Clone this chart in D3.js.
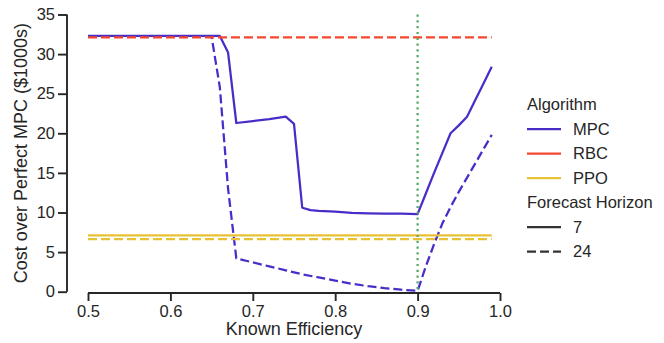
<!DOCTYPE html>
<html>
<head>
<meta charset="utf-8">
<script src="https://cdn.jsdelivr.net/npm/d3@7"></script>
<style>
  body { margin: 0; background: #fff; }
  text { font-family: "Liberation Sans", Arial, sans-serif; fill: #262626; }
</style>
</head>
<body>
<div id="chart"></div>
<script>
// series
const mpc7Eff = [0.50, 0.55, 0.60, 0.65, 0.66, 0.67, 0.68, 0.70, 0.72, 0.74, 0.75, 0.76, 0.77, 0.78, 0.80, 0.82, 0.84, 0.86, 0.88, 0.90, 0.91, 0.92, 0.93, 0.94, 0.95, 0.96, 0.97, 0.98, 0.99];
const mpc7Cost = [32.3, 32.3, 32.3, 32.3, 32.3, 30.2, 21.3, 21.55, 21.8, 22.1, 21.2, 10.6, 10.3, 10.2, 10.1, 9.95, 9.9, 9.85, 9.85, 9.8, 12.4, 15.0, 17.5, 20.0, 21.0, 22.1, 24.2, 26.3, 28.4];
const mpc24Eff = [0.50, 0.55, 0.60, 0.65, 0.66, 0.67, 0.68, 0.70, 0.72, 0.74, 0.76, 0.78, 0.80, 0.82, 0.84, 0.86, 0.88, 0.90, 0.91, 0.92, 0.93, 0.94, 0.95, 0.96, 0.97, 0.98, 0.99];
const mpc24Cost = [32.2, 32.2, 32.2, 32.2, 25.8, 13.0, 4.2, 3.7, 3.2, 2.7, 2.2, 1.8, 1.4, 1.0, 0.7, 0.45, 0.25, 0.1, 3.2, 6.0, 8.6, 10.7, 12.6, 14.4, 16.2, 18.0, 19.8];
const flatEff = [0.50, 0.99];
const rbc24Cost = [32.1, 32.1];
const ppo7Cost = [7.1, 7.1];
const ppo24Cost = [6.65, 6.65];
const knownEffLine = 0.9;

const xTicks = [0.5, 0.6, 0.7, 0.8, 0.9, 1.0];
const yTicks = [0, 5, 10, 15, 20, 25, 30, 35];
const algorithms = ["MPC", "RBC", "PPO"];
const horizons = ["7", "24"];

const colors = { MPC: "#4a2cc8", RBC: "#f5472e", PPO: "#e8c236" };
const dash24 = "9,4";

const width = 664, height = 343;
const svg = d3.select("#chart").append("svg")
  .attr("width", width)
  .attr("height", height);

const x = d3.scaleLinear().domain([0.5, 1.0]).range([88, 500]);
const y = d3.scaleLinear().domain([0, 35]).range([291.7, 14.5]);

// axes (despined, offset like seaborn)
const xAxis = svg.append("g")
  .attr("transform", "translate(0,293)")
  .call(d3.axisBottom(x).tickValues(xTicks).tickFormat(d3.format(".1f")).tickSize(8).tickPadding(4));
const yAxis = svg.append("g")
  .attr("transform", "translate(67,0)")
  .call(d3.axisLeft(y).tickValues(yTicks).tickFormat(d3.format("d")).tickSize(9).tickPadding(3));

[xAxis, yAxis].forEach(g => {
  g.selectAll("path.domain").attr("stroke", "#262626").attr("stroke-width", 1.9);
  g.selectAll(".tick line").attr("stroke", "#262626").attr("stroke-width", 1.9);
  g.selectAll(".tick text")
    .attr("font-family", "Liberation Sans, Arial, sans-serif")
    .attr("font-size", 16.5)
    .attr("fill", "#262626");
});
// strip d3's outer ticks off the domain path
xAxis.select("path.domain").attr("d", `M${x(0.5)},0H${x(1.0)}`);
yAxis.select("path.domain").attr("d", `M0,${y(0)}V${y(35)}`);

svg.append("text")
  .attr("x", 294).attr("y", 335)
  .attr("text-anchor", "middle")
  .attr("font-size", 18)
  .text("Known Efficiency");

svg.append("text")
  .attr("transform", `translate(27,${(y(0) + y(35)) / 2}) rotate(-90)`)
  .attr("text-anchor", "middle")
  .attr("font-size", 18)
  .text("Cost over Perfect MPC ($1000s)");

const line = d3.line().x(d => x(d[0])).y(d => y(d[1]));
const plot = svg.append("g").attr("fill", "none").attr("stroke-width", 2.25);

const series = [
  { eff: mpc7Eff, cost: mpc7Cost, color: colors.MPC, dash: null },
  { eff: mpc24Eff, cost: mpc24Cost, color: colors.MPC, dash: dash24 },
  { eff: flatEff, cost: rbc24Cost, color: colors.RBC, dash: dash24 },
  { eff: flatEff, cost: ppo7Cost, color: colors.PPO, dash: null },
  { eff: flatEff, cost: ppo24Cost, color: colors.PPO, dash: dash24 }
];

series.forEach(s => {
  plot.append("path")
    .datum(d3.zip(s.eff, s.cost))
    .attr("d", line)
    .attr("stroke", s.color)
    .attr("stroke-dasharray", s.dash)
    .attr("stroke-linejoin", "round");
});

plot.append("line")
  .attr("x1", x(knownEffLine)).attr("x2", x(knownEffLine))
  .attr("y1", y(35)).attr("y2", y(0))
  .attr("stroke", "#55a868")
  .attr("stroke-width", 2.25)
  .attr("stroke-dasharray", "2.2,3.6");

// legend
const legend = svg.append("g").attr("font-size", 16.5);
const rowY = [104.5, 129, 153.5, 178, 202.5, 227, 251.5];
const rows = [
  { label: "Algorithm", title: true },
  ...algorithms.map(a => ({ label: a, color: colors[a], dash: null })),
  { label: "Forecast Horizon", title: true },
  { label: horizons[0], color: "#333333", dash: null },
  { label: horizons[1], color: "#333333", dash: dash24 }
];
rows.forEach((r, i) => {
  if (r.title) {
    legend.append("text").attr("x", 527).attr("y", rowY[i]).attr("dy", "0.35em").text(r.label);
    return;
  }
  legend.append("line")
    .attr("x1", 527).attr("x2", 561)
    .attr("y1", rowY[i]).attr("y2", rowY[i])
    .attr("stroke", r.color)
    .attr("stroke-width", 2.25)
    .attr("stroke-dasharray", r.dash);
  legend.append("text").attr("x", 573).attr("y", rowY[i]).attr("dy", "0.35em").text(r.label);
});
</script>
</body>
</html>
